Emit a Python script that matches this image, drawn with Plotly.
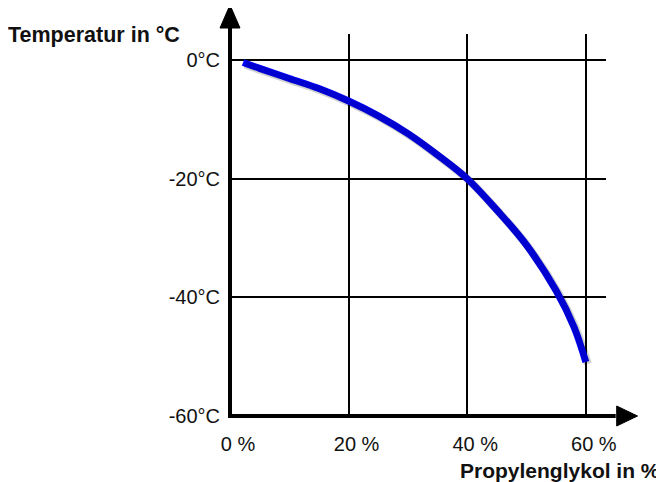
import plotly.graph_objects as go

# Data
glycol_pct = [2.2, 5, 10, 15, 20, 25, 30, 35, 40, 45, 50, 55, 58, 60]
freeze_temp = [-0.4, -1.4, -3.1, -4.8, -6.9, -9.4, -12.4, -16.0, -20.0, -25.3, -31.2, -38.9, -45.0, -50.9]

x_ticks = [0, 20, 40, 60]
x_tick_labels = ["0 %", "20 %", "40 %", "60 %"]
y_ticks = [0, -20, -40, -60]
y_tick_labels = ["0°C", "-20°C", "-40°C", "-60°C"]

x_title = "Propylenglykol in %"
y_title = "Temperatur in °C"

OFF = 8  # page body margin of the browser
WIN_W, WIN_H = 664, 482
W, H = WIN_W - OFF, WIN_H - OFF
PL, PR, PT, PB = 230, 606, 34, 416   # plot area in window pixels
ML, MT = PL - OFF, PT - OFF
MR, MB = WIN_W - PR, WIN_H - PB
X_RANGE = [0, 63.4]
Y_RANGE = [-60, 4.4]
pw = PR - PL
ph = PB - PT
sx = pw / (X_RANGE[1] - X_RANGE[0])
sy = ph / (Y_RANGE[1] - Y_RANGE[0])
shadow_dx = 2 / sx
shadow_dy = 2 / sy

font_family = "Liberation Sans, Arial, sans-serif"

fig = go.Figure()

# soft drop shadow of curve (overlay axes shifted by 2 px)
fig.add_trace(go.Scatter(
    x=glycol_pct, y=freeze_temp, mode="lines", xaxis="x2", yaxis="y2",
    line=dict(color="rgba(0,0,0,0.18)", width=8, shape="spline", smoothing=1),
    hoverinfo="skip", showlegend=False))

fig.add_trace(go.Scatter(
    x=glycol_pct, y=freeze_temp, mode="lines",
    line=dict(color="#0000ff", width=7, shape="spline", smoothing=1),
    showlegend=False))

axis_common = dict(showgrid=True, gridcolor="black", gridwidth=2,
                   zeroline=False, showline=False, ticks="")

fig.update_layout(
    width=W, height=H,
    margin=dict(l=ML, r=MR, t=MT, b=MB, autoexpand=False),
    paper_bgcolor="white", plot_bgcolor="white",
    font=dict(family=font_family, color="black"),
    xaxis=dict(range=X_RANGE, tickvals=x_ticks, ticktext=x_tick_labels,
               tickfont=dict(size=20, color="#111"), ticklabelstandoff=14,
               ticklabelshift=8, **axis_common),
    yaxis=dict(range=Y_RANGE, tickvals=y_ticks, ticktext=y_tick_labels,
               tickfont=dict(size=20, color="#111"), ticklabelstandoff=9,
               **axis_common),
    xaxis2=dict(range=[X_RANGE[0] - shadow_dx, X_RANGE[1] - shadow_dx],
                overlaying="x", visible=False),
    yaxis2=dict(range=[Y_RANGE[0] + shadow_dy, Y_RANGE[1] + shadow_dy],
                overlaying="y", visible=False),
)

# axis lines with arrowheads (paper coordinates)
ext_y = 1 + 6 / ph      # arrow base above plot top
tip_y = 1 + 29 / ph
hw_y = 10 / pw
ext_x = 1 + 10.7 / pw
tip_x = 1 + 31.5 / pw
hw_x = 10 / ph
lw = 4
fig.add_shape(type="line", xref="paper", yref="paper", x0=0, x1=0,
              y0=-2 / ph, y1=ext_y + 1 / ph, line=dict(color="black", width=lw))
fig.add_shape(type="path", xref="paper", yref="paper",
              path=f"M {-hw_y},{ext_y} L {hw_y},{ext_y} L 0,{tip_y} Z",
              fillcolor="black", line=dict(color="black", width=1))
fig.add_shape(type="line", xref="paper", yref="paper", y0=0, y1=0,
              x0=-2 / pw, x1=ext_x - 1 / pw, line=dict(color="black", width=lw))
fig.add_shape(type="path", xref="paper", yref="paper",
              path=f"M {ext_x},{-hw_x} L {ext_x},{hw_x} L {tip_x},0 Z",
              fillcolor="black", line=dict(color="black", width=1))

# axis titles
fig.add_annotation(text=y_title, xref="paper", yref="paper",
                   x=(182 - PL) / pw, y=(PB - 35) / ph,
                   xanchor="right", yanchor="middle", showarrow=False,
                   font=dict(size=21.5, weight="bold", color="#111"))
fig.add_annotation(text=x_title, xref="paper", yref="paper",
                   x=(662 - PL) / pw, y=(PB - 470) / ph,
                   xanchor="right", yanchor="middle", showarrow=False,
                   font=dict(size=21, weight="bold", color="#111"))

fig.write_html("out.html")
